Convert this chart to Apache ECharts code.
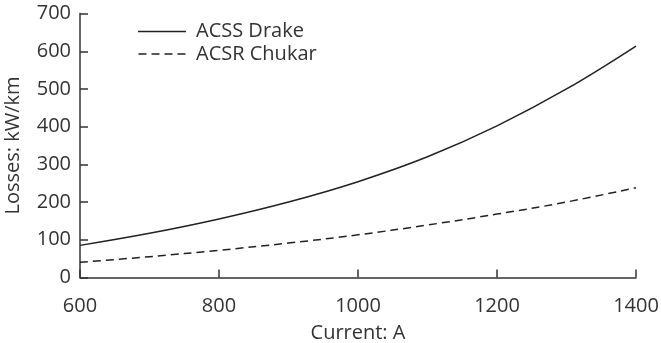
<!DOCTYPE html>
<html>
<head>
<meta charset="utf-8">
<script src="https://cdn.jsdelivr.net/npm/echarts@6/dist/echarts.min.js"></script>
<style>
  html, body { margin: 0; padding: 0; background: #fff; }
  #chart { width: 661px; height: 343px; }
</style>
</head>
<body>
<div id="chart"></div>
<script>
// Conductor current (A) and resistive losses (kW/km)
const currents = [600, 700, 800, 900, 1000, 1100, 1200, 1300, 1400];
const acssDrake = [85, 117, 155, 200, 254, 320, 402, 500, 614];
const acsrChukar = [40, 55, 72, 91, 113, 139, 168, 200, 238];
const seriesNames = ['ACSS Drake', 'ACSR Chukar'];

const ink = '#333333';
const lineInk = '#222222';
const font = 'Open Sans';
const fs = 20;

const pairs = (ys) => currents.map((x, i) => [x, ys[i]]);
const plain = (v) => String(v);

// Legend keys: a plain bar for the solid line, four short bars for the dashed one
const solidKey = 'path://M0,0H48V1.5H0Z';
const dashedKey = 'path://M0,0H8V1.5H0Z M13,0H21V1.5H13Z M26,0H34V1.5H26Z M39,0H47V1.5H39Z';

const chart = echarts.init(document.getElementById('chart'), null, { renderer: 'canvas' });
chart.setOption({
  animation: false,
  backgroundColor: '#ffffff',
  textStyle: { fontFamily: font, color: ink },
  grid: {
    left: 80, right: 25, top: 13.6, bottom: 65.6,
    containLabel: false,
    outerBoundsMode: 'none'
  },
  legend: {
    orient: 'vertical',
    left: 138,
    top: 21.5,
    padding: 0,
    itemWidth: 48,
    itemHeight: 1.5,
    itemGap: 2.5,
    itemStyle: { color: lineInk, borderWidth: 0 },
    data: [
      { name: seriesNames[0], icon: solidKey },
      { name: seriesNames[1], icon: dashedKey }
    ],
    textStyle: { fontFamily: font, fontSize: fs, color: ink, padding: [0, 0, 0, 5] }
  },
  xAxis: {
    type: 'value',
    min: 600,
    max: 1400,
    interval: 200,
    name: 'Current: A',
    nameLocation: 'middle',
    nameGap: 46,
    nameTextStyle: { fontFamily: font, fontSize: fs, color: ink },
    axisLine: { lineStyle: { color: ink, width: 1.5 } },
    axisTick: { inside: true, length: 8, lineStyle: { color: ink, width: 1.5 } },
    axisLabel: { fontFamily: font, fontSize: fs, color: ink, margin: 19, formatter: plain },
    splitLine: { show: false }
  },
  yAxis: {
    type: 'value',
    min: 0,
    max: 700,
    interval: 100,
    name: 'Losses: kW/km',
    nameLocation: 'middle',
    nameGap: 57,
    nameTextStyle: { fontFamily: font, fontSize: fs, color: ink },
    axisLine: { show: true, lineStyle: { color: ink, width: 1.5 } },
    axisTick: { show: true, inside: true, length: 8, lineStyle: { color: ink, width: 1.5 } },
    axisLabel: { fontFamily: font, fontSize: fs, color: ink, margin: 9, formatter: plain },
    splitLine: { show: false }
  },
  series: [
    {
      name: seriesNames[0],
      type: 'line',
      data: pairs(acssDrake),
      smooth: 0.4,
      showSymbol: false,
      symbol: 'none',
      lineStyle: { color: lineInk, width: 1.5, type: 'solid' },
      itemStyle: { color: lineInk }
    },
    {
      name: seriesNames[1],
      type: 'line',
      data: pairs(acsrChukar),
      smooth: 0.4,
      showSymbol: false,
      symbol: 'none',
      lineStyle: { color: lineInk, width: 1.5, type: [8, 5] },
      itemStyle: { color: lineInk }
    }
  ]
});
</script>
</body>
</html>
